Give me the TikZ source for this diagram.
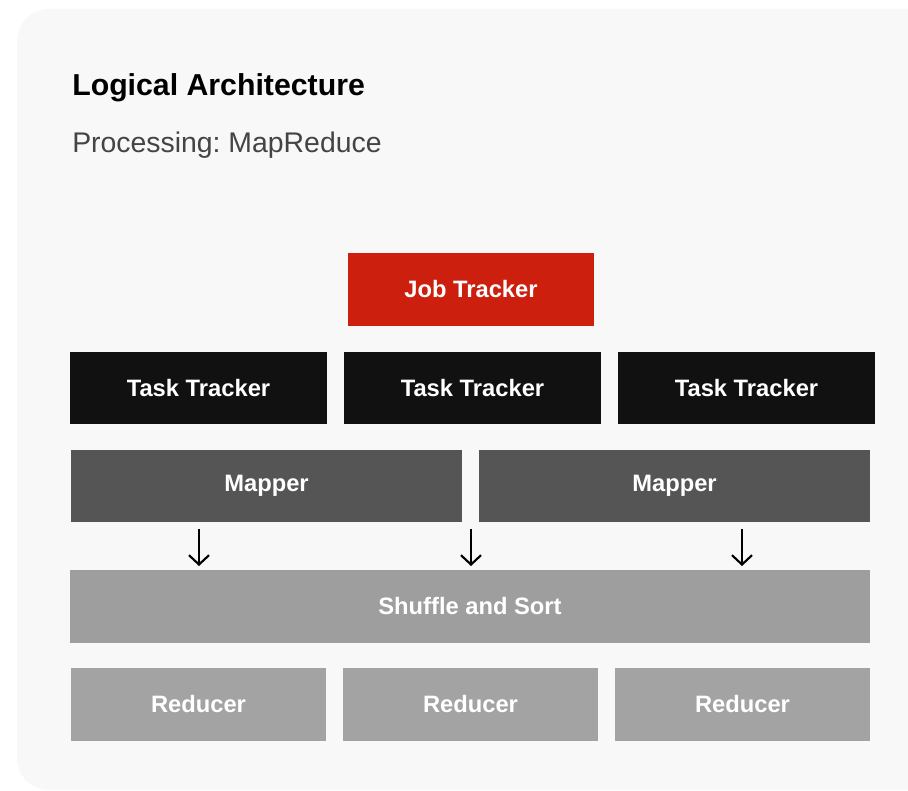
\documentclass[tikz,border=0pt]{standalone}
\usepackage{fontspec}
\setmainfont{Liberation Sans}
\usetikzlibrary{arrows.meta}
\definecolor{cardbg}{HTML}{F8F8F8}
\definecolor{jobred}{HTML}{CC1F0D}
\definecolor{taskblack}{HTML}{111111}
\definecolor{mapgray}{HTML}{555555}
\definecolor{shufgray}{HTML}{9E9E9E}
\definecolor{redgray}{HTML}{A3A3A3}
\definecolor{subgray}{HTML}{444444}
\frenchspacing
\tikzset{
  box/.style={anchor=north west, inner sep=0pt, outer sep=0pt, text=white,
    font=\fontsize{17.8pt}{21pt}\selectfont\bfseries},
  jobbox/.style={box, fill=jobred},
  taskbox/.style={box, fill=taskblack},
  mapbox/.style={box, fill=mapgray},
  shufbox/.style={box, fill=shufgray},
  redbox/.style={box, fill=redgray},
  flow/.style={draw=black, line width=1.6pt, -{Straight Barb[length=7pt,width=15pt,line width=1.6pt]}}
}
\begin{document}
\begin{tikzpicture}[x=0.75pt,y=-0.75pt]
\useasboundingbox (0,0) rectangle (908,791);
\fill[white] (0,0) rectangle (908,791);
\fill[cardbg, rounded corners=24pt] (17,9) rectangle (960,790);
\node[anchor=base west, inner sep=0pt, text=black, font=\fontsize{22.7pt}{26pt}\selectfont\bfseries] (title) at (72,96) {Logical Architecture};
\node[anchor=base west, inner sep=0pt, text=subgray, font=\fontsize{21.3pt}{24pt}\selectfont] (sub) at (72,153) {Processing: MapReduce};
% Job tracker
\node[jobbox, minimum width=184.5pt, minimum height=54.75pt] (job) at (348,253) {Job Tracker};
% Task trackers
\node[taskbox, minimum width=192.75pt, minimum height=54pt] (t1) at (70,352) {Task Tracker};
\node[taskbox, minimum width=192.75pt, minimum height=54pt] (t2) at (344,352) {Task Tracker};
\node[taskbox, minimum width=192.75pt, minimum height=54pt] (t3) at (618,352) {Task Tracker};
% Mappers
\node[mapbox, minimum width=293.25pt, minimum height=54pt] (m1) at (71,450) {Mapper};
\node[mapbox, minimum width=293.25pt, minimum height=54pt] (m2) at (479,450) {Mapper};
% Shuffle
\node[shufbox, minimum width=600pt, minimum height=54.75pt] (sh) at (70,570) {Shuffle and Sort};
% Reducers
\node[redbox, minimum width=191.25pt, minimum height=54.75pt] (r1) at (71,668) {Reducer};
\node[redbox, minimum width=191.25pt, minimum height=54.75pt] (r2) at (343,668) {Reducer};
\node[redbox, minimum width=191.25pt, minimum height=54.75pt] (r3) at (615,668) {Reducer};
% arrows
\coordinate (a1s) at (199,529); \coordinate (a1e) at (199,566);
\coordinate (a2s) at (471,529); \coordinate (a2e) at (471,566);
\coordinate (a3s) at (742,529); \coordinate (a3e) at (742,566);
\draw[flow] (a1s) -- (a1e);
\draw[flow] (a2s) -- (a2e);
\draw[flow] (a3s) -- (a3e);
\end{tikzpicture}
\end{document}
